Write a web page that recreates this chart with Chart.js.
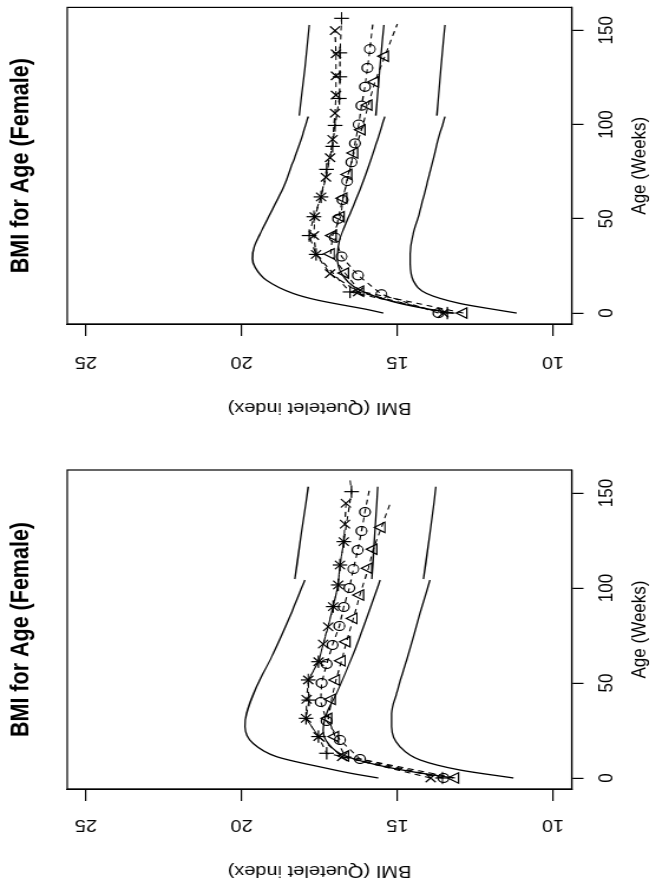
<!DOCTYPE html>
<html>
<head>
<meta charset="utf-8">
<script src="https://cdn.jsdelivr.net/npm/chart.js@4/dist/chart.umd.min.js"></script>
<style>
  body { margin:0; background:#fff; overflow:hidden; }
  #page { position:relative; width:668px; height:888px; background:#fff; }
  canvas { position:absolute; left:0; top:0; transform-origin:0 0; }
  /* both panels are drawn upright, then turned a quarter left and stretched sideways */
  #chartTop    { transform: translate(0px,444px) scale(1.18,1) rotate(-90deg); }
  #chartBottom { transform: translate(0px,888px) scale(1.18,1) rotate(-90deg); }
</style>
</head>
<body>
<div id="page">
  <canvas id="chartTop" width="444" height="566"></canvas>
  <canvas id="chartBottom" width="444" height="566"></canvas>
</div>
<script>
const titleText = 'BMI for Age (Female)';
const xTitle = 'Age (Weeks)';
const yTitle = 'BMI (Quetelet index)';
const ageTicks = [0, 50, 100, 150];
const bmiTicks = [10, 15, 20, 25];

// ---- top panel: reference curves (A = to 2 yrs, B = after) ----
const tHiAgeA = [0, 2, 4.2, 7, 10.4, 17.4, 24.4, 28.8, 34.9, 41.9, 52.5, 66.5, 80.5, 92.8, 104.2];
const tHiBmiA = [15.45, 16.0, 16.73, 17.6, 18.34, 19.20, 19.57, 19.65, 19.60, 19.41, 19.09, 18.66, 18.34, 18.07, 17.86];
const tHiAgeB = [104.7, 129.6, 152.8];
const tHiBmiB = [18.15, 17.97, 17.83];
const tMidAgeA = [0, 3, 6, 12.1, 20.9, 29.6, 38.4, 52.5, 70, 87.5, 104.2];
const tMidBmiA = [13.2, 14.3, 15.13, 16.20, 16.79, 16.93, 16.86, 16.52, 16.09, 15.72, 15.40];
const tMidAgeB = [104.7, 129.6, 152.8];
const tMidBmiB = [15.69, 15.56, 15.43];
const tLoAgeA = [0, 2.5, 5.1, 10.4, 17.4, 26.1, 31.4, 41.9, 54.2, 71.7, 89.3, 104.2];
const tLoBmiA = [11.17, 12.1, 12.99, 14.06, 14.49, 14.59, 14.59, 14.49, 14.27, 14.0, 13.73, 13.47];
const tLoAgeB = [104.7, 129.6, 152.8];
const tLoBmiB = [13.73, 13.6, 13.47];

// ---- top panel: measured children ----
const tPlusAge = [0, 11.2, 31.1, 41.1, 51.1, 61.6, 76.2, 88.4, 99.5, 113.8, 125.3, 138, 156.3];
const tPlusBmi = [13.39, 16.52, 17.61, 17.83, 17.68, 17.45, 17.27, 17.08, 17.0, 16.86, 16.84, 16.84, 16.79];
const tCrossAge = [0, 11.2, 20.9, 31.1, 41.1, 51.1, 61.6, 72, 82.4, 92.1, 106, 115.6, 125.8, 137.5, 149.8];
const tCrossBmi = [13.52, 16.26, 17.16, 17.61, 17.68, 17.65, 17.45, 17.29, 17.16, 17.08, 17.0, 16.97, 16.97, 16.97, 17.0];
const tCircAge = [0, 10, 20, 30, 40, 50, 60, 70, 80, 90, 100, 110, 120, 130, 140, 153];
const tCircBmi = [13.68, 15.51, 16.26, 16.79, 17.0, 16.90, 16.76, 16.61, 16.47, 16.36, 16.24, 16.15, 16.04, 15.96, 15.88, 15.79];
const tTriAge = [0, 11.6, 21.2, 31.4, 41.1, 51.1, 60.9, 73.5, 84.9, 97.2, 110.3, 122.6, 136.2, 153.3];
const tTriBmi = [12.88, 16.20, 16.68, 17.14, 17.08, 16.82, 16.74, 16.58, 16.39, 16.15, 15.93, 15.72, 15.40, 15.0];

// ---- bottom panel: reference curves ----
const bHiAgeA = [0, 2.5, 5.1, 11.2, 18.2, 27, 34, 48, 65.6, 84.9, 104.2];
const bHiBmiA = [15.61, 16.5, 17.27, 18.87, 19.63, 19.89, 19.84, 19.52, 18.98, 18.45, 17.97];
const bHiAgeB = [104.7, 128.8, 153.3];
const bHiBmiB = [18.29, 18.08, 17.86];
const bMidAgeA = [0, 3.5, 6.9, 12, 18.2, 25.3, 34, 44.6, 65.6, 104.2];
const bMidBmiA = [13.2, 14.6, 15.66, 16.73, 17.22, 17.38, 17.27, 16.95, 16.41, 15.55];
const bMidAgeB = [104.7, 128.8, 153.3];
const bMidBmiB = [15.82, 15.72, 15.63];
const bLoAgeA = [0, 4.2, 9.5, 16.4, 27, 34, 44.6, 62, 86.6, 104.2];
const bLoBmiA = [11.27, 12.99, 14.27, 14.91, 15.18, 15.18, 15.02, 14.7, 14.27, 13.95];
const bLoAgeB = [104.7, 128.8, 153.3];
const bLoBmiB = [14.16, 13.95, 13.76];

// ---- bottom panel: measured children ----
const bPlusAge = [0, 13, 21.8, 31.4, 41, 51.6, 61.2, 90.2, 101.6, 112.1, 124.4, 150.7, 157];
const bPlusBmi = [13.55, 17.27, 17.53, 17.93, 17.84, 17.86, 17.53, 17.06, 16.9, 16.84, 16.72, 16.47, 16.52];
const bCrossAge = [0, 11.2, 21.8, 31.4, 41.4, 51.6, 61.2, 70.5, 79.6, 90.2, 101.6, 112.1, 124.4, 133.6, 144.6];
const bCrossBmi = [13.93, 16.77, 17.53, 17.93, 17.91, 17.86, 17.53, 17.38, 17.22, 17.06, 16.9, 16.84, 16.72, 16.68, 16.65];
const bCircAge = [0, 10, 20, 30, 40, 50, 60, 70, 80, 90, 100, 110, 120, 130, 140, 153];
const bCircBmi = [13.52, 16.20, 16.84, 17.27, 17.46, 17.43, 17.27, 17.08, 16.86, 16.72, 16.54, 16.41, 16.27, 16.15, 16.04, 15.88];
const bTriAge = [0, 11.6, 21.8, 31.4, 41.4, 51.6, 61.7, 71.7, 84.0, 96.3, 110.4, 120.4, 131.9, 144.6];
const bTriBmi = [13.15, 16.68, 17.0, 17.22, 17.11, 16.97, 16.79, 16.63, 16.41, 16.20, 15.93, 15.77, 15.51, 15.23];

Chart.defaults.font.family = 'Arial, "Liberation Sans", Helvetica, sans-serif';
Chart.defaults.color = '#000';

function xy(ages, vals) { return ages.map((a, i) => ({ x: a, y: vals[i] })); }

function refLine(ages, vals) {
  return { data: xy(ages, vals), borderColor:'#000', borderWidth:1.3, pointRadius:0,
           cubicInterpolationMode:'monotone', fill:false };
}

// last point of some children has no marker, only the dashed line running up to it
function child(ages, vals, style, r, bareEnd) {
  return { data: xy(ages, vals), borderColor:'#000', borderWidth:1.1, borderDash:[5,4], tension:0,
           pointStyle: style, pointRadius: ages.map((_, i) => (bareEnd && i === ages.length - 1) ? 0 : r),
           pointBorderColor:'#000', pointBackgroundColor:'rgba(0,0,0,0)', pointBorderWidth:1.2, fill:false };
}

const boxPlugin = {
  id: 'box',
  afterDraw(chart) {
    const { ctx, chartArea: a } = chart;
    ctx.save();
    ctx.strokeStyle = '#000';
    ctx.lineWidth = 1.2;
    ctx.strokeRect(a.left, a.top, a.right - a.left, a.bottom - a.top);
    ctx.restore();
  }
};

function makePanel(id, datasets, p) {
  new Chart(document.getElementById(id), {
    type: 'line',
    data: { datasets },
    plugins: [boxPlugin],
    options: {
      responsive:false, animation:false, events:[],
      layout: { padding: { top:0, left:0, bottom:0, right:p.padRight } },
      plugins: {
        legend: { display:false }, tooltip: { enabled:false },
        title: { display:true, text:titleText, fullSize:false, color:'#000',
                 font:{ size:21.5, weight:'bold' }, padding:{ top:4.9, bottom:26.3 } }
      },
      scales: {
        x: { type:'linear', min:-5.8, max:162.1,
             afterBuildTicks: s => { s.ticks = ageTicks.map(v => ({ value:v })); },
             afterFit: s => { s.height = 81.5; },
             grid: { display:true, drawOnChartArea:false, drawTicks:true, tickLength:10, color:'#000', lineWidth:1.2 },
             border: { display:true, color:'#000', width:1.2 },
             ticks: { color:'#000', font:{ size:17 }, padding:9.7, maxRotation:0, autoSkip:false },
             title: { display:true, text:xTitle, color:'#000', font:{ size:17 }, padding:{ top:0, bottom:13.4 } } },
        y: { type:'linear', min:9.4, max:25.6,
             afterBuildTicks: s => { s.ticks = bmiTicks.map(v => ({ value:v })); },
             afterFit: s => { s.width = p.yWidth; },
             grid: { display:true, drawOnChartArea:false, drawTicks:true, tickLength:12, color:'#000', lineWidth:1.2 },
             border: { display:true, color:'#000', width:1.2 },
             ticks: { color:'#000', font:{ size:17 }, minRotation:90, maxRotation:90, crossAlign:'center',
                      padding:p.yTickPad, autoSkip:false },
             title: { display:true, text:yTitle, color:'#000', font:{ size:17 }, padding:{ top:p.yTitlePad, bottom:0 } } }
      }
    }
  });
}

makePanel('chartTop', [
  refLine(tHiAgeA, tHiBmiA), refLine(tHiAgeB, tHiBmiB),
  refLine(tMidAgeA, tMidBmiA), refLine(tMidAgeB, tMidBmiB),
  refLine(tLoAgeA, tLoBmiA), refLine(tLoAgeB, tLoBmiB),
  child(tPlusAge, tPlusBmi, 'cross', 6.2, false),
  child(tCrossAge, tCrossBmi, 'crossRot', 6, false),
  child(tCircAge, tCircBmi, 'circle', 4.5, true),
  child(tTriAge, tTriBmi, 'triangle', 6, true)
], { padRight:5, yWidth:120, yTickPad:16.5, yTitlePad:25.8 });

makePanel('chartBottom', [
  refLine(bHiAgeA, bHiBmiA), refLine(bHiAgeB, bHiBmiB),
  refLine(bMidAgeA, bMidBmiA), refLine(bMidAgeB, bMidBmiB),
  refLine(bLoAgeA, bLoBmiA), refLine(bLoAgeB, bLoBmiB),
  child(bPlusAge, bPlusBmi, 'cross', 6.2, true),
  child(bCrossAge, bCrossBmi, 'crossRot', 6, false),
  child(bCircAge, bCircBmi, 'circle', 4.5, true),
  child(bTriAge, bTriBmi, 'triangle', 6, true)
], { padRight:26, yWidth:99, yTickPad:14.5, yTitlePad:6.8 });
</script>
</body>
</html>
